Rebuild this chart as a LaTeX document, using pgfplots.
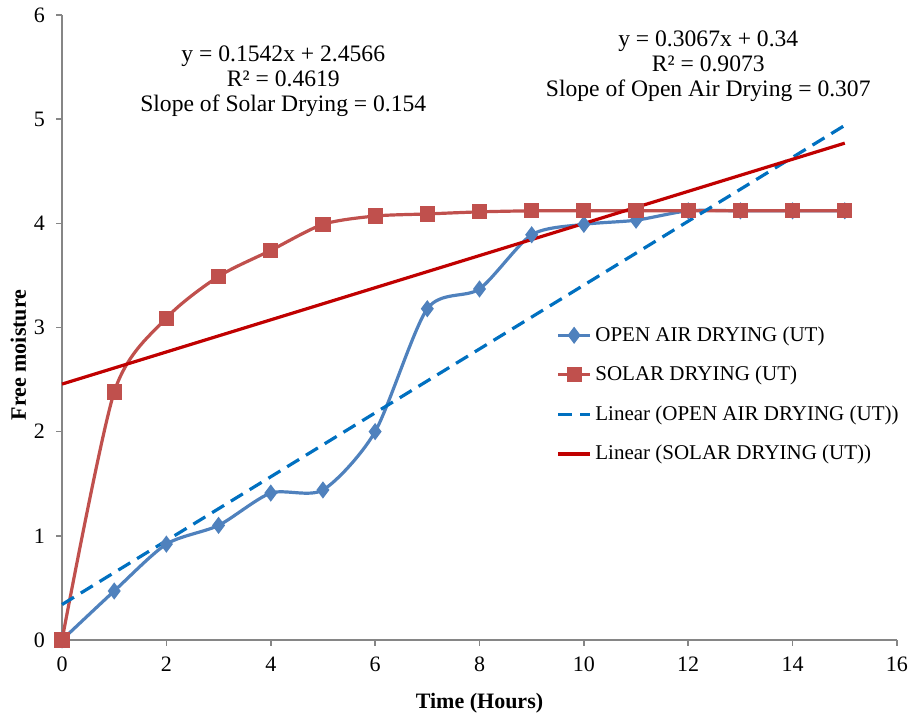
\documentclass[border=0pt]{standalone}
\usepackage{pgfplots}
\pgfplotsset{compat=1.18}
\usepackage{fontspec}
\setmainfont{Liberation Serif}

\definecolor{openair}{RGB}{79,129,189}
\definecolor{solar}{RGB}{192,80,77}
\definecolor{openlin}{RGB}{0,112,192}
\definecolor{solarlin}{RGB}{192,0,0}
\definecolor{axisgray}{RGB}{134,134,134}

\begin{document}
\begin{tikzpicture}
\begin{axis}[
    width=417.5pt, height=312.5pt, scale only axis,
    xmin=0, xmax=16, ymin=0, ymax=6,
    xtick={0,2,...,16}, ytick={0,1,...,6},
    axis x line*=bottom, axis y line*=left,
    axis line style={axisgray, line width=1.2pt},
    tick style={axisgray, line width=0.8pt},
    tick align=outside, major tick length=3pt,
    every x tick label/.append style={yshift=-2pt},
    every y tick label/.append style={xshift=-2pt},
    /pgf/number format/assume math mode=true,
    tick label style={font=\fontsize{11}{13}\selectfont},
    xlabel={\textbf{Time (Hours)}},
    ylabel={\textbf{Free moisture}},
    label style={font=\fontsize{11}{13}\selectfont},
    xlabel style={yshift=-4pt},
    ylabel style={at={(ticklabel cs:0.456)}, yshift=-3pt},
    legend style={draw=none, fill=none, at={(0.585,0.515)}, anchor=north west,
        font=\fontsize{10.5}{12}\selectfont, row sep=7pt,
        legend cell align=left},
    legend image code/.code={
        \draw[#1] (0cm,0cm) -- (0.55cm,0cm);
        \draw[#1, mark repeat=2, mark phase=2] plot coordinates {(0cm,0cm) (0.275cm,0cm) (0.55cm,0cm)};
    },
    clip=false,
]
\addplot[openair, line width=1.6pt, smooth, tension=0.45, mark=diamond*, mark size=3pt,
    mark options={solid, fill=openair}] coordinates {
    (0,0) (1,0.47) (2,0.92) (3,1.10) (4,1.41) (5,1.44) (6,2.00) (7,3.18)
    (8,3.37) (9,3.89) (10,3.99) (11,4.03) (12,4.12) (13,4.12) (14,4.12) (15,4.12)
};
\addlegendentry{OPEN AIR DRYING (UT)}
\addplot[solar, line width=1.6pt, smooth, tension=0.45, mark=square*, mark size=3pt,
    mark options={solid, fill=solar}] coordinates {
    (0,0) (1,2.38) (2,3.09) (3,3.49) (4,3.74) (5,3.99) (6,4.07) (7,4.09)
    (8,4.11) (9,4.12) (10,4.12) (11,4.12) (12,4.12) (13,4.12) (14,4.12) (15,4.12)
};
\addlegendentry{SOLAR DRYING (UT)}
\addplot[openlin, line width=1.6pt, dash pattern=on 7pt off 4pt] coordinates {
    (0,0.34) (15,4.9405)
};
\addlegendentry{Linear (OPEN AIR DRYING (UT))}
\addplot[solarlin, line width=1.6pt] coordinates {
    (0,2.4566) (15,4.7696)
};
\addlegendentry{Linear (SOLAR DRYING (UT))}

\node[align=center, font=\fontsize{11.8}{12.6}\selectfont] at (rel axis cs:0.265,0.894)
    {y = 0.1542x + 2.4566\\R² = 0.4619\\Slope of Solar Drying = 0.154};
\node[align=center, font=\fontsize{11.8}{12.6}\selectfont] at (rel axis cs:0.774,0.918)
    {y = 0.3067x + 0.34\\R² = 0.9073\\Slope of Open Air Drying = 0.307};

\coordinate (bl) at (rel axis cs:-0.0743,-0.1264);
\coordinate (tr) at (rel axis cs:1.0204,1.024);
\end{axis}
\pgfresetboundingbox
\path[use as bounding box] (bl) rectangle (tr);
\end{tikzpicture}
\end{document}
